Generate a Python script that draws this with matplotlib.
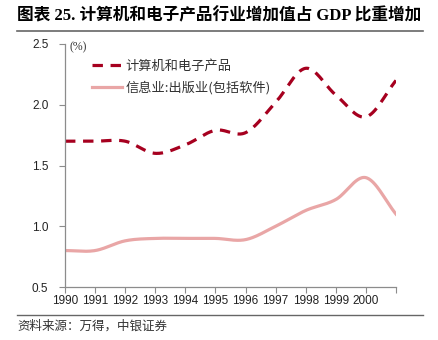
"""Recreate chart: computer & electronics value added share of GDP."""

import numpy as np
import matplotlib

matplotlib.use("Agg")
import matplotlib.pyplot as plt
from matplotlib.lines import Line2D

plt.rcParams["font.family"] = ["Liberation Sans", "Noto Sans CJK SC", "DejaVu Sans"]
plt.rcParams["lines.scale_dashes"] = False

# data
years = [1990, 1991, 1992, 1993, 1994, 1995, 1996, 1997, 1998, 1999, 2000, 2001]
computer = [1.7, 1.7, 1.7, 1.6, 1.67, 1.79, 1.77, 2.02, 2.3, 2.08, 1.9, 2.2]
info_pub = [0.8, 0.8, 0.88, 0.9, 0.9, 0.9, 0.89, 1.0, 1.13, 1.22, 1.4, 1.1]
tick_years = list(range(1990, 2002))
tick_labels = [str(y) for y in range(1990, 2001)] + [""]
name_computer = "计算机和电子产品"
name_info = "信息业:出版业(包括软件)"

RED = "#A6001F"
PINK = "#E9A6A6"
GREY = "#8C8C8C"


def smooth(x, y, n=30):
    """Catmull-Rom style smoothing like Excel's smoothed line."""
    x = np.asarray(x, float)
    y = np.asarray(y, float)
    px = np.concatenate([[2 * x[0] - x[1]], x, [2 * x[-1] - x[-2]]])
    py = np.concatenate([[2 * y[0] - y[1]], y, [2 * y[-1] - y[-2]]])
    xs, ys = [], []
    t = np.linspace(0, 1, n, endpoint=False)
    for i in range(1, len(px) - 2):
        p0, p1, p2, p3 = [np.array([px[j], py[j]]) for j in range(i - 1, i + 3)]
        c1 = p1 + (p2 - p0) / 6
        c2 = p2 - (p3 - p1) / 6
        pts = (
            ((1 - t) ** 3)[:, None] * p1
            + (3 * (1 - t) ** 2 * t)[:, None] * c1
            + (3 * (1 - t) * t**2)[:, None] * c2
            + (t**3)[:, None] * p2
        )
        xs.extend(pts[:, 0])
        ys.extend(pts[:, 1])
    xs.append(x[-1])
    ys.append(y[-1])
    return np.array(xs), np.array(ys)


W, H = 438, 340
fig = plt.figure(figsize=(W / 100, H / 100), dpi=100)
ax = fig.add_axes([65 / W, (H - 287) / H, (396 - 65) / W, (287 - 44) / H])

sx, sy = smooth(years, computer)
ax.plot(sx, sy, color=RED, lw=2.3, ls=(0, (7.5, 5.5)), solid_capstyle="butt")
sx, sy = smooth(years, info_pub)
ax.plot(sx, sy, color=PINK, lw=2.3)

ax.set_xlim(1990, 2001)
ax.set_ylim(0.5, 2.5)
ax.set_xticks(tick_years)
ax.set_xticklabels(tick_labels)
ax.set_yticks([0.5, 1.0, 1.5, 2.0, 2.5])
ax.set_yticklabels(["0.5", "1.0", "1.5", "2.0", "2.5"])
for s in ["top", "right"]:
    ax.spines[s].set_visible(False)
for s in ["left", "bottom"]:
    ax.spines[s].set_color(GREY)
    ax.spines[s].set_linewidth(0.9)
ax.tick_params(axis="both", colors=GREY, labelcolor="#222222", labelsize=8.5,
               length=4, width=0.8, direction="out")
ax.tick_params(axis="x", pad=2)
ax.tick_params(axis="y", pad=8)

# legend drawn by hand to match placement
ax.text(0.015, 0.985, "(%)", transform=ax.transAxes, fontsize=8.5,
        color="#333333", va="center", ha="left",
        family=["Liberation Serif", "Noto Sans CJK SC"])
leg = ax.legend(
    [Line2D([], [], color=RED, lw=2.3, ls=(0, (7.5, 5.5))),
     Line2D([], [], color=PINK, lw=2.3)],
    [name_computer, name_info],
    loc="upper left", bbox_to_anchor=(0.045, 0.985), frameon=False,
    handlelength=2.3, handletextpad=0.25, labelspacing=0.65,
    prop={"family": ["Noto Sans CJK SC"], "size": 9.5},
)
for t in leg.get_texts():
    t.set_color("#333333")

fig.text(17 / W, 1 - 16 / H, "图表 25. 计算机和电子产品行业增加值占 GDP 比重增加",
         fontsize=12, fontweight="bold", va="center", ha="left",
         family=["Liberation Serif", "Noto Sans CJK SC"])
fig.add_artist(Line2D([17 / W, 423 / W], [1 - 31 / H, 1 - 31 / H],
                      color="#666666", lw=1.2, transform=fig.transFigure))
fig.add_artist(Line2D([17 / W, 423 / W], [1 - 315 / H, 1 - 315 / H],
                      color="#666666", lw=1.0, transform=fig.transFigure))
fig.text(17 / W, 1 - 326 / H, "资料来源：万得，中银证券", fontsize=9,
         style="italic", color="#333333", va="center", ha="left",
         family=["Noto Sans CJK SC"])

fig.savefig("out.png", dpi=100)
